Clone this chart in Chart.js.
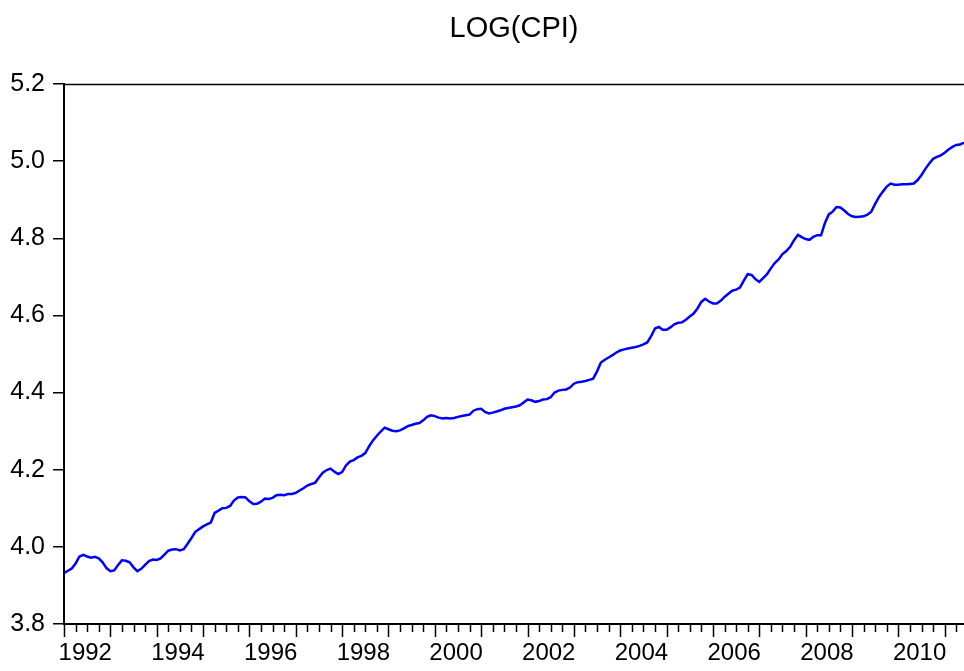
<!DOCTYPE html>
<html>
<head>
<meta charset="utf-8">
<script src="https://cdn.jsdelivr.net/npm/chart.js@4"></script>
<style>
    html, body { margin: 0; padding: 0; background: #fff; }
    #wrap { width: 964px; height: 671px; }
</style>
</head>
<body>
<div id="wrap"><canvas id="chart"></canvas></div>
<script>
const startYear = 1992;
const yearLabels = ['1992', '1994', '1996', '1998', '2000', '2002', '2004', '2006', '2008', '2010'];
const yTicks = [3.8, 4.0, 4.2, 4.4, 4.6, 4.8, 5.0, 5.2];

// monthly LOG(CPI), 1992M01 - 2011M06
const logCpi = [
    3.932, 3.938, 3.944, 3.957, 3.975, 3.979, 3.975, 3.972, 3.974, 3.970, 3.960, 3.945,
    3.937, 3.939, 3.953, 3.965, 3.964, 3.960, 3.947, 3.937, 3.943, 3.953, 3.963, 3.967,
    3.966, 3.970, 3.980, 3.990, 3.993, 3.994, 3.991, 3.994, 4.008, 4.023, 4.039, 4.046,
    4.053, 4.058, 4.063, 4.088, 4.094, 4.100, 4.101, 4.106, 4.120, 4.128, 4.129, 4.128,
    4.118, 4.111, 4.112, 4.117, 4.125, 4.124, 4.127, 4.134, 4.135, 4.134, 4.137, 4.137,
    4.140, 4.146, 4.152, 4.159, 4.163, 4.166, 4.180, 4.192, 4.199, 4.203, 4.195, 4.189,
    4.194, 4.211, 4.221, 4.225, 4.232, 4.236, 4.243, 4.261, 4.276, 4.288, 4.299, 4.309,
    4.305, 4.301, 4.300, 4.302, 4.307, 4.313, 4.316, 4.319, 4.321, 4.328, 4.337, 4.341,
    4.339, 4.335, 4.333, 4.334, 4.333, 4.334, 4.337, 4.339, 4.341, 4.343, 4.353, 4.357,
    4.358, 4.350, 4.346, 4.348, 4.351, 4.354, 4.358, 4.360, 4.362, 4.364, 4.367, 4.374,
    4.382, 4.380, 4.376, 4.378, 4.382, 4.383, 4.388, 4.400, 4.405, 4.407, 4.408, 4.413,
    4.423, 4.427, 4.428, 4.430, 4.433, 4.436, 4.455, 4.478, 4.485, 4.491, 4.497, 4.504,
    4.509, 4.512, 4.514, 4.516, 4.518, 4.521, 4.525, 4.530, 4.546, 4.566, 4.570, 4.563,
    4.563, 4.569, 4.577, 4.581, 4.582, 4.589, 4.597, 4.605, 4.618, 4.635, 4.643, 4.636,
    4.631, 4.631, 4.638, 4.648, 4.656, 4.664, 4.667, 4.672, 4.690, 4.707, 4.705, 4.694,
    4.687, 4.697, 4.707, 4.722, 4.736, 4.745, 4.759, 4.767, 4.778, 4.795, 4.809, 4.803,
    4.798, 4.796, 4.804, 4.808, 4.808, 4.840, 4.862, 4.869, 4.881, 4.880, 4.872, 4.863,
    4.857, 4.855, 4.856, 4.857, 4.861, 4.869, 4.889, 4.907, 4.921, 4.934, 4.942, 4.939,
    4.939, 4.940, 4.940, 4.941, 4.942, 4.951, 4.964, 4.980, 4.994, 5.006, 5.011, 5.015,
    5.022, 5.030, 5.037, 5.042, 5.043, 5.048,
];

const months = logCpi.map((_, i) =>
    `${startYear + Math.floor(i / 12)}M${String(i % 12 + 1).padStart(2, '0')}`);

Chart.defaults.font.family = '"Liberation Sans", Arial, sans-serif';
Chart.defaults.color = '#000';

// top frame line and quarterly / yearly tick marks on the date axis
const frame = {
    id: 'frame',
    afterDraw(chart) {
        const { ctx, chartArea: a, scales: { x } } = chart;
        ctx.save();
        ctx.strokeStyle = '#000';
        ctx.lineWidth = 1.5;
        ctx.beginPath();
        ctx.moveTo(a.left, a.top + 0.5);
        ctx.lineTo(a.right, a.top + 0.5);
        for (let i = 0; i < months.length; i += 3) {
            const px = Math.round(x.getPixelForValue(i)) + 0.5;
            const len = i % 12 === 0 ? 13 : 8;
            ctx.moveTo(px, a.bottom);
            ctx.lineTo(px, a.bottom + len);
        }
        ctx.stroke();
        ctx.restore();
    },
};

new Chart(document.getElementById('chart'), {
    type: 'line',
    data: {
        labels: months,
        datasets: [{
            label: 'LOG(CPI)',
            data: logCpi.map((v, i) => ({ x: i, y: v })),
            borderColor: '#0000ff',
            borderWidth: 2.5,
            pointRadius: 0,
            tension: 0,
            fill: false,
        }],
    },
    options: {
        responsive: true,
        maintainAspectRatio: false,
        animation: false,
        layout: { padding: { top: 0, left: 0, right: 0, bottom: 0 } },
        scales: {
            x: {
                type: 'linear',
                min: 0,
                max: months.length - 1,
                afterBuildTicks: s => { s.ticks = yearLabels.map((_, k) => ({ value: 5.5 + 24 * k })); },
                afterFit: s => { s.height = 47; },
                grid: { display: false, drawTicks: false },
                border: { display: true, color: '#000', width: 2 },
                ticks: {
                    autoSkip: false,
                    maxRotation: 0,
                    padding: 15,
                    font: { size: 24 },
                    callback: (v, i) => yearLabels[i],
                },
            },
            y: {
                min: 3.8,
                max: 5.2,
                afterBuildTicks: s => { s.ticks = yTicks.map(v => ({ value: v })); },
                afterFit: s => { s.width = 64; },
                grid: { drawOnChartArea: false, drawTicks: true, tickLength: 11, color: '#000', lineWidth: 1.5 },
                border: { display: true, color: '#000', width: 2 },
                ticks: {
                    padding: 8,
                    font: { size: 25 },
                    callback: v => v.toFixed(1),
                },
            },
        },
        plugins: {
            legend: { display: false },
            tooltip: { enabled: false },
            title: {
                display: true,
                fullSize: false,
                text: 'LOG(CPI)',
                color: '#000',
                font: { size: 29, weight: 'normal' },
                padding: { top: 12, bottom: 37.2 },
            },
        },
    },
    plugins: [frame],
});
</script>
</body>
</html>
